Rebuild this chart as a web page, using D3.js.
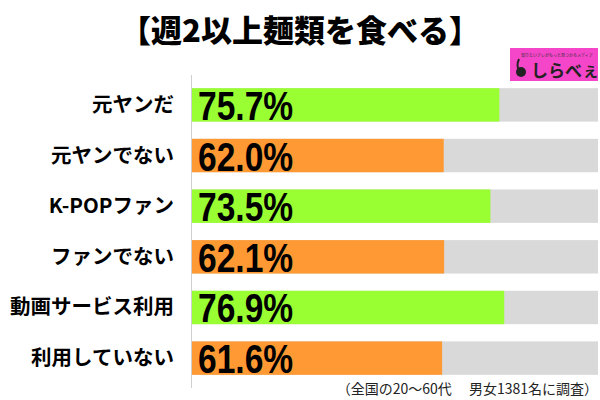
<!DOCTYPE html>
<html><head><meta charset="utf-8">
<script src="https://cdn.jsdelivr.net/npm/d3@7"></script>
<style>body{margin:0;background:#fff}</style>
</head><body>
<svg id="c" width="600" height="400"></svg>
<script>
const title = "【週2以上麺類を食べる】";
const categories = ["元ヤンだ","元ヤンでない","K-POPファン","ファンでない","動画サービス利用","利用していない"];
const values = [75.7, 62.0, 73.5, 62.1, 76.9, 61.6];
const groups = ["yes","no","yes","no","yes","no"];
const note = "（全国の20～60代　 男女1381名に調査）";

const svg = d3.select("#c");
const font = "'Noto Sans CJK JP','Noto Sans',sans-serif";
const x = d3.scaleLinear().domain([0,100]).range([192,598]);
const y = d3.scaleBand().domain(categories).range([75,388]).paddingInner(0.34).paddingOuter(0.26);
const color = d3.scaleOrdinal().domain(["yes","no"]).range(["#99ff33","#ff9933"]);

svg.append("text").attr("x",300).attr("y",42).attr("text-anchor","middle")
  .attr("font-family",font).attr("font-weight","900").attr("font-size",31).text(title);

svg.selectAll("rect.bg").data(categories).join("rect").attr("class","bg")
  .attr("x",x(0)).attr("y",d=>y(d)).attr("width",x(100)-x(0)).attr("height",y.bandwidth()).attr("fill","#d9d9d9");
svg.selectAll("rect.v").data(values).join("rect").attr("class","v")
  .attr("x",x(0)).attr("y",(d,i)=>y(categories[i])).attr("width",d=>x(d)-x(0)).attr("height",y.bandwidth())
  .attr("fill",(d,i)=>color(groups[i]));

svg.append("line").attr("x1",191.5).attr("x2",191.5).attr("y1",75).attr("y2",388).attr("stroke","#d0d0d0");

svg.selectAll("text.val").data(values).join("text").attr("class","val")
  .attr("transform",(d,i)=>`translate(${x(0)+6},${y(categories[i])+y.bandwidth()/2+15}) scale(0.84,1)`)
  .attr("font-family","'Liberation Sans',Arial,sans-serif").attr("font-weight","bold").attr("font-size",40)
  .attr("fill","#000").text(d=>d.toFixed(1)+"%");

svg.selectAll("text.cat").data(categories).join("text").attr("class","cat")
  .attr("x",174).attr("y",d=>y(d)+y.bandwidth()/2+7)
  .attr("text-anchor","end").attr("font-family",font).attr("font-weight","bold").attr("font-size",20.5)
  .text(d=>d);

svg.append("text").attr("x",598).attr("y",394).attr("text-anchor","end")
  .attr("font-family",font).attr("font-size",14).attr("fill","#222").text(note);

const lg = svg.append("g");
lg.append("rect").attr("x",510).attr("y",48).attr("width",88).attr("height",33).attr("fill","#f545c8");
lg.append("text").attr("x",557).attr("y",57).attr("text-anchor","middle").attr("font-family",font)
  .attr("font-size",4).attr("fill","#333").text("知りたいアレがもっと見つかるメディア");
lg.append("text").attr("x",531).attr("y",77).attr("font-family",font).attr("font-weight","bold")
  .attr("font-size",17).attr("fill","#222").text("しらべぇ");
lg.append("circle").attr("cx",521).attr("cy",72).attr("r",5).attr("fill","#222");
lg.append("path").attr("d","M519 59 Q516 66 519 70").attr("stroke","#222").attr("stroke-width",2).attr("fill","none");
</script>
</body></html>
